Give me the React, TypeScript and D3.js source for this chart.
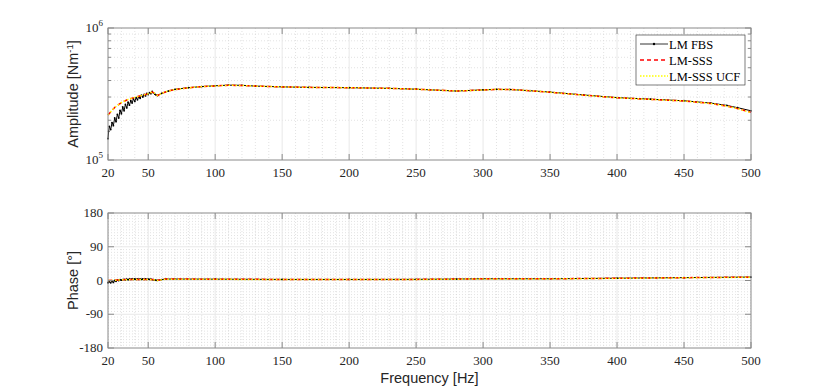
import React from 'react'
import * as d3 from 'd3'

// frequency grid of the smooth part (Hz)
const freqs = [20, 25, 30, 35, 40, 45, 50, 53, 55, 57, 60, 65, 70, 80, 90, 100, 110, 120, 130, 150, 170, 200, 230, 250, 280, 300, 310, 320, 335, 350, 375, 400, 425, 450, 470, 482, 490, 500]
// LM-SSS amplitude (x 1e5 N/m)
const ampSSS = [2.19, 2.5, 2.72, 2.88, 2.98, 3.08, 3.18, 3.27, 3.2, 3.08, 3.2, 3.33, 3.42, 3.52, 3.6, 3.64, 3.68, 3.67, 3.63, 3.58, 3.55, 3.53, 3.49, 3.44, 3.33, 3.39, 3.43, 3.42, 3.35, 3.26, 3.1, 2.96, 2.88, 2.8, 2.68, 2.56, 2.45, 2.3]
// LM-SSS UCF amplitude (x 1e5 N/m)
const ampUCF = [2.2, 2.5, 2.72, 2.88, 2.98, 3.08, 3.18, 3.27, 3.2, 3.08, 3.2, 3.33, 3.42, 3.52, 3.6, 3.64, 3.68, 3.67, 3.63, 3.58, 3.55, 3.53, 3.49, 3.44, 3.33, 3.39, 3.43, 3.42, 3.35, 3.26, 3.1, 2.96, 2.88, 2.8, 2.68, 2.56, 2.45, 2.28]
// LM FBS amplitude (x 1e5 N/m), same grid, high range
const ampFBS = [1.55, 2.05, 2.28, 2.72, 2.8, 3.08, 3.15, 3.3, 3.15, 3.08, 3.2, 3.33, 3.43, 3.53, 3.6, 3.65, 3.69, 3.68, 3.63, 3.58, 3.55, 3.53, 3.49, 3.44, 3.33, 3.4, 3.43, 3.42, 3.35, 3.27, 3.11, 2.97, 2.89, 2.81, 2.7, 2.59, 2.49, 2.36]

// noisy low frequency part of the FBS measurement
const fbsLowFreq = [20, 20.5, 21, 22, 23, 24, 25, 26, 27, 28, 29, 30, 31, 32, 33, 34, 35, 36, 37, 38, 39, 40, 41, 42, 43, 44, 45, 46, 47, 48, 49, 50, 51, 52, 53, 54, 55, 56]
const fbsLowAmp = [1.45, 1.65, 1.8, 1.7, 1.92, 1.82, 2.08, 1.95, 2.22, 2.08, 2.38, 2.24, 2.52, 2.36, 2.64, 2.48, 2.74, 2.6, 2.82, 2.7, 2.9, 2.78, 2.97, 2.86, 3.02, 2.93, 3.1, 3.0, 3.14, 3.06, 3.2, 3.13, 3.24, 3.18, 3.31, 3.22, 3.15, 3.1]
const fbsLowPhase = [-6, -4, -3, -6, -2, -5, 0, -2, 1, 0, 2, 1, 2.5, 3, 2, 3.5, 2, 4, 3, 4, 3, 4, 3, 4, 3, 4, 3, 4, 3, 4, 3, 3.5, 3, 3.5, 2.5, 2, 1.5, 0.5]

// phase (deg)
const phaseFreq = [20, 25, 30, 40, 50, 53, 55, 57, 60, 63, 70, 100, 150, 200, 250, 280, 300, 350, 400, 450, 500]
const phaseSSS = [0, 1, 2, 3, 3, 2.5, 1.5, 0.5, 2.5, 3.8, 3.8, 3.5, 2.8, 2.7, 3, 3.8, 4.5, 4.5, 6, 7.5, 9]
const phaseFBS = [0, 1, 2, 3, 3, 2.5, 1.5, 0.5, 2.5, 3.9, 3.9, 3.6, 2.9, 2.8, 3.1, 3.9, 4.6, 4.6, 6.1, 7.6, 9.2]

const xTicks = [20, 50, 100, 150, 200, 250, 300, 350, 400, 450, 500]
const phaseTicks = [-180, -90, 0, 90, 180]

const W = 830
const H = 391
const L = 108
const R = 751
const top1 = 28
const bot1 = 160
const top2 = 213
const bot2 = 348

const serif = '"Liberation Serif", "DejaVu Serif", serif'
const sans = '"Liberation Sans", Arial, sans-serif'
const axisCol = '#8a8a8a'

type P = [number, number]

export default function App() {
  const x = d3.scaleLinear().domain([20, 500]).range([L, R])
  const yA = d3.scaleLog().domain([1e5, 1e6]).range([bot1, top1])
  const yP = d3.scaleLinear().domain([-180, 180]).range([bot2, top2])

  const line = d3.line<P>().x(d => d[0]).y(d => d[1])

  const fbsA: P[] = [
    ...fbsLowFreq.map((f, i) => [x(f), yA(fbsLowAmp[i] * 1e5)] as P),
    ...freqs.map((f, i) => [f, ampFBS[i]] as P).filter(d => d[0] > 56).map(d => [x(d[0]), yA(d[1] * 1e5)] as P),
  ]
  const sssA: P[] = freqs.map((f, i) => [x(f), yA(ampSSS[i] * 1e5)])
  const ucfA: P[] = freqs.map((f, i) => [x(f), yA(ampUCF[i] * 1e5)])

  const fbsP: P[] = [
    ...fbsLowFreq.map((f, i) => [x(f), yP(fbsLowPhase[i])] as P),
    ...phaseFreq.map((f, i) => [f, phaseFBS[i]] as P).filter(d => d[0] > 56).map(d => [x(d[0]), yP(d[1])] as P),
  ]
  const sssP: P[] = phaseFreq.map((f, i) => [x(f), yP(phaseSSS[i])])
  const ucfP: P[] = phaseFreq.map((f, i) => [x(f), yP(phaseSSS[i] - 0.3)])

  const xMinor = d3.range(30, 500, 10).filter(v => v % 50 !== 0)
  const aMinor = d3.range(2, 10).map(v => v * 1e5)
  const pMinor = d3.range(-180, 180, 7.5).filter(v => v % 90 !== 0)

  const series = (fbs: P[], sss: P[], ucf: P[]) => (
    <g>
      <path d={line(fbs) || ''} fill="none" stroke="#000" strokeWidth={1} />
      {fbs.map((d, i) => <circle key={i} cx={d[0]} cy={d[1]} r={0.9} fill="#000" />)}
      <path d={line(sss) || ''} fill="none" stroke="#ff0000" strokeWidth={1.5} strokeDasharray="4,3" />
      <path d={line(ucf) || ''} fill="none" stroke="#ffff00" strokeWidth={1.5} strokeDasharray="1.5,2" />
    </g>
  )

  const frame = (t: number, b: number, yMinorPos: number[], yMajorPos: number[]) => (
    <g>
      {xMinor.map(v => <line key={'xm' + v} x1={x(v)} x2={x(v)} y1={t} y2={b} stroke="#d6d6d6" strokeWidth={0.7} strokeDasharray="1,2" />)}
      {yMinorPos.map((p, i) => <line key={'ym' + i} x1={L} x2={R} y1={p} y2={p} stroke="#d6d6d6" strokeWidth={0.7} strokeDasharray="1,2" />)}
      {xTicks.slice(1, -1).map(v => <line key={'xg' + v} x1={x(v)} x2={x(v)} y1={t} y2={b} stroke="#e8e8e8" strokeWidth={1} />)}
      {yMajorPos.map((p, i) => <line key={'yg' + i} x1={L} x2={R} y1={p} y2={p} stroke="#e8e8e8" strokeWidth={1} />)}
    </g>
  )

  const box = (t: number, b: number, yMinorPos: number[], yMajorPos: number[]) => (
    <g>
      <rect x={L} y={t} width={R - L} height={b - t} fill="none" stroke={axisCol} strokeWidth={1} />
      {xTicks.map(v => (
        <g key={'xt' + v}>
          <line x1={x(v)} x2={x(v)} y1={b} y2={b - 6} stroke={axisCol} />
          <line x1={x(v)} x2={x(v)} y1={t} y2={t + 6} stroke={axisCol} />
        </g>
      ))}
      {yMajorPos.map((p, i) => (
        <g key={'yt' + i}>
          <line x1={L} x2={L + 6} y1={p} y2={p} stroke={axisCol} />
          <line x1={R} x2={R - 6} y1={p} y2={p} stroke={axisCol} />
        </g>
      ))}
      {yMinorPos.map((p, i) => (
        <g key={'ymt' + i}>
          <line x1={L} x2={L + 3} y1={p} y2={p} stroke={axisCol} />
          <line x1={R} x2={R - 3} y1={p} y2={p} stroke={axisCol} />
        </g>
      ))}
      {xTicks.map(v => (
        <text key={'xl' + v} x={x(v)} y={b + 17} textAnchor="middle" fontFamily={serif} fontSize={13} fill="#262626">{v}</text>
      ))}
    </g>
  )

  const legendItems = [
    { label: 'LM FBS', kind: 'fbs' },
    { label: 'LM-SSS', kind: 'sss' },
    { label: 'LM-SSS UCF', kind: 'ucf' },
  ]

  return (
    <svg width={W} height={H} style={{ position: 'absolute', left: 0, top: 0, background: '#fff' }} fontFamily={sans}>
      <rect width={W} height={H} fill="#fff" />

      {/* amplitude panel */}
      {frame(top1, bot1, aMinor.map(v => yA(v)), [])}
      {series(fbsA, sssA, ucfA)}
      {box(top1, bot1, aMinor.map(v => yA(v)), [yA(1e5), yA(1e6)])}
      <text x={L - 5} y={top1 + 4} textAnchor="end" fontFamily={serif} fontSize={13} fill="#262626">10<tspan dy={-6} fontSize={9}>6</tspan></text>
      <text x={L - 5} y={bot1 + 4} textAnchor="end" fontFamily={serif} fontSize={13} fill="#262626">10<tspan dy={-6} fontSize={9}>5</tspan></text>
      <text transform={`translate(78,${(top1 + bot1) / 2}) rotate(-90)`} textAnchor="middle" fontSize={14.5} fill="#262626">
        Amplitude [Nm<tspan dy={-5} fontSize={9.5}>-1</tspan><tspan dy={5}>]</tspan>
      </text>

      {/* legend */}
      <g>
        <rect x={636} y={35} width={109} height={50} fill="#fff" stroke="#262626" strokeWidth={0.6} />
        {legendItems.map((it, i) => {
          const yy = 44 + i * 16
          return (
            <g key={it.label}>
              {it.kind === 'fbs' && <g>
                <line x1={640} x2={668} y1={yy} y2={yy} stroke="#000" strokeWidth={0.8} />
                <circle cx={654} cy={yy} r={1.2} fill="#000" />
              </g>}
              {it.kind === 'sss' && <line x1={640} x2={668} y1={yy} y2={yy} stroke="#ff0000" strokeWidth={1.5} strokeDasharray="4,3" />}
              {it.kind === 'ucf' && <line x1={640} x2={668} y1={yy} y2={yy} stroke="#ffff00" strokeWidth={1.5} strokeDasharray="1.5,1.5" />}
              <text x={669} y={yy + 4.5} fontFamily={serif} fontSize={12.5} fill="#000">{it.label}</text>
            </g>
          )
        })}
      </g>

      {/* phase panel */}
      {frame(top2, bot2, pMinor.map(v => yP(v)), [-90, 0, 90].map(v => yP(v)))}
      {series(fbsP, sssP, ucfP)}
      {box(top2, bot2, [], phaseTicks.map(v => yP(v)))}
      {phaseTicks.map(v => (
        <text key={'pl' + v} x={L - 5} y={yP(v) + 4} textAnchor="end" fontFamily={serif} fontSize={13} fill="#262626">{v}</text>
      ))}
      <text transform={`translate(78,${(top2 + bot2) / 2}) rotate(-90)`} textAnchor="middle" fontSize={14.5} fill="#262626">Phase [°]</text>
      <text x={(L + R) / 2} y={383} textAnchor="middle" fontSize={14.5} fill="#262626">Frequency [Hz]</text>
    </svg>
  )
}
